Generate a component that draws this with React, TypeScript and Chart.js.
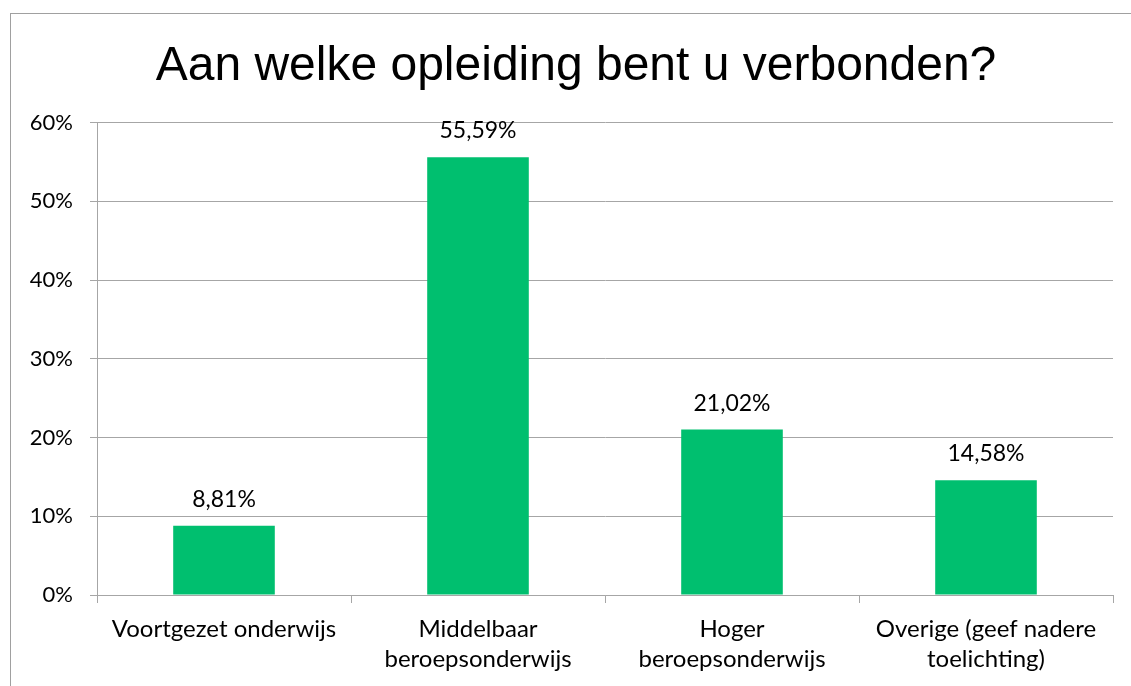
import React, { useEffect, useRef } from "react";
import { Chart, registerables } from "chart.js";

Chart.register(...registerables);

const titleText = "Aan welke opleiding bent u verbonden?";
const categories: (string | string[])[] = [
  "Voortgezet onderwijs",
  ["Middelbaar", "beroepsonderwijs"],
  ["Hoger", "beroepsonderwijs"],
  ["Overige (geef nadere", "toelichting)"],
];
const values = [8.81, 55.59, 21.02, 14.58];
const valueLabels = ["8,81%", "55,59%", "21,02%", "14,58%"];
const yTicks = [0, 10, 20, 30, 40, 50, 60];

const GREEN = "#00BF6F";
const GRID = "#A6A6A6";
const LABEL_FONT = "Lato, 'Noto Sans', sans-serif";

export default function App() {
  const ref = useRef<HTMLCanvasElement | null>(null);

  useEffect(() => {
    document.body.style.margin = "0";
    const labelPlugin = {
      id: "valueLabels",
      afterDatasetsDraw(chart: any) {
        const ctx = chart.ctx;
        const meta = chart.getDatasetMeta(0);
        ctx.save();
        ctx.font = `23px ${LABEL_FONT}`;
        ctx.fillStyle = "#000";
        ctx.textAlign = "center";
        ctx.textBaseline = "alphabetic";
        meta.data.forEach((bar: any, i: number) => {
          ctx.fillText(valueLabels[i], bar.x, bar.y - 19);
        });
        ctx.restore();
      },
    };
    const chart = new Chart(ref.current!, {
      type: "bar",
      data: {
        labels: categories,
        datasets: [
          {
            data: values,
            backgroundColor: GREEN,
            categoryPercentage: 0.8,
            barPercentage: 0.5,
          },
        ],
      },
      options: {
        animation: false,
        responsive: false,
        layout: { padding: 0 },
        plugins: {
          legend: { display: false },
          tooltip: { enabled: false },
          title: {
            display: true,
            text: titleText,
            color: "#000",
            font: { family: "'Liberation Sans', Arial, sans-serif", size: 48, weight: "normal" },
            padding: { top: 38, bottom: 27 },
          },
        },
        scales: {
          x: {
            grid: {
              display: true,
              drawOnChartArea: false,
              drawTicks: true,
              tickLength: 8,
              color: GRID,
              offset: true,
            },
            border: { display: true, color: GRID },
            ticks: {
              color: "#000",
              font: { family: LABEL_FONT, size: 24, lineHeight: 1.25 },
              maxRotation: 0,
              autoSkip: false,
              padding: 11,
            },
            afterFit(scale: any) {
              scale.height = 91;
            },
          },
          y: {
            min: 0,
            max: 60,
            afterBuildTicks(scale: any) {
              scale.ticks = yTicks.map((v) => ({ value: v }));
            },
            grid: { color: GRID, tickLength: 7 },
            border: { display: true, color: GRID },
            ticks: {
              color: "#000",
              font: { family: LABEL_FONT, size: 22 },
              padding: 17,
              callback: (v: any) => `${v}%`,
            },
            afterFit(scale: any) {
              scale.width = 97;
            },
          },
          spacer: {
            type: "linear",
            position: "right",
            display: true,
            grid: { display: false },
            border: { display: false },
            ticks: { display: false },
            afterFit(scale: any) {
              scale.width = 39;
            },
          },
        },
      },
      plugins: [labelPlugin],
    });
    return () => chart.destroy();
  }, []);

  return (
    <div style={{ position: "relative", width: 1131, height: 686, background: "#fff", overflow: "hidden" }}>
      <div
        style={{
          position: "absolute",
          left: 10,
          top: 13,
          width: 1200,
          height: 700,
          borderLeft: "1px solid #A0A0A0",
          borderTop: "1px solid #A0A0A0",
        }}
      />
      <canvas ref={ref} width={1152} height={686} style={{ position: "absolute", left: 0, top: 0 }} />
    </div>
  );
}
